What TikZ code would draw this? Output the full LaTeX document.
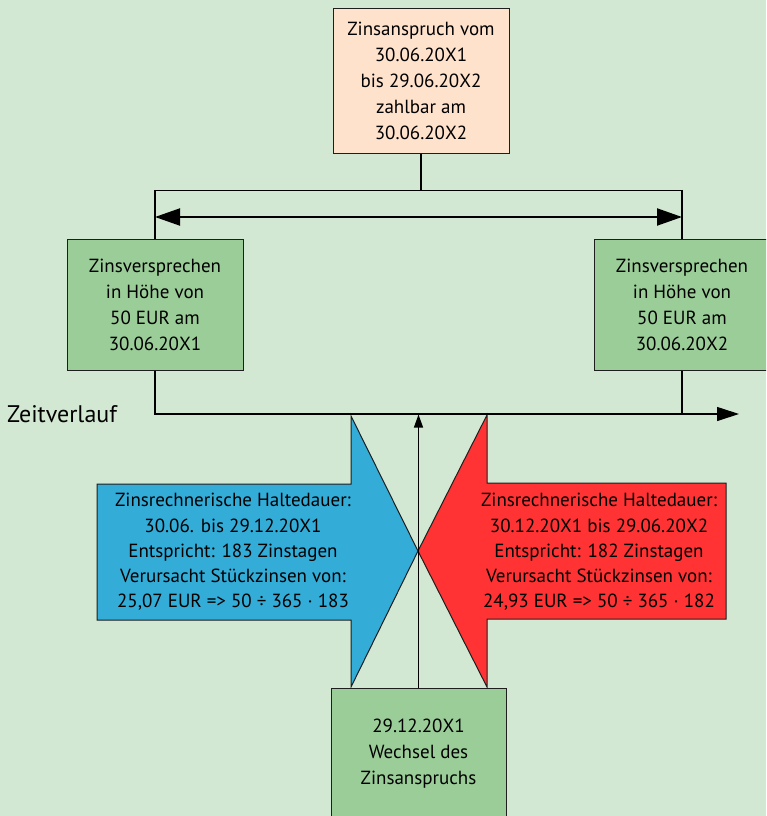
\documentclass[tikz,border=0pt]{standalone}
\usepackage{fontspec}
\setmainfont{PT Sans}
\usetikzlibrary{arrows.meta}
\definecolor{bg}{RGB}{210,232,210}
\definecolor{boxgreen}{RGB}{155,205,152}
\definecolor{peach}{RGB}{255,226,204}
\definecolor{arrblue}{RGB}{51,172,216}
\definecolor{arrred}{RGB}{255,51,51}
\definecolor{edge}{RGB}{30,30,30}
\begin{document}
\begin{tikzpicture}[x=1pt,y=-1pt,
  txt/.style={font=\fontsize{19}{25.2}\selectfont, align=center, text=black, inner sep=0pt},
  box/.style={txt, font=\fontsize{19}{26}\selectfont, draw=edge, line width=1pt, minimum width=176pt},
  conn/.style={draw=black, line width=1.1pt},
  arrowshape/.style={draw=edge, line width=1pt}]
\useasboundingbox (0,0) rectangle (766,816);
\fill[bg] (0,0) rectangle (766,816);
\clip (0,0) rectangle (766,816);
% arrows (shapes)
\path[arrowshape, fill=arrblue] (97,484) -- (351,484) -- (351,416) -- (418,551) -- (351,687) -- (351,620) -- (97,620) -- cycle;
\path[arrowshape, fill=arrred] (726,483) -- (487,483) -- (487,415) -- (418,551) -- (487,687) -- (487,619) -- (726,619) -- cycle;
% boxes
\node[box, fill=peach, minimum height=144pt] (top) at (421,81) {Zinsanspruch vom\\30.06.20X1\\bis 29.06.20X2\\zahlbar am\\30.06.20X2};
\node[box, fill=boxgreen, minimum height=131pt] (left) at (155,304.5) {Zinsversprechen\\in Höhe von\\50 EUR am\\30.06.20X1};
\node[box, fill=boxgreen, minimum height=131pt] (right) at (682,304.5) {Zinsversprechen\\in Höhe von\\50 EUR am\\30.06.20X2};
\node[box, fill=boxgreen, minimum width=175pt, minimum height=132pt] (bottom) at (418.5,754) {29.12.20X1\\Wechsel des\\Zinsanspruchs};
% arrow texts
\node[txt] (bluetext) at (233,552) {Zinsrechnerische Haltedauer:\\30.06. bis 29.12.20X1\\Entspricht: 183 Zinstagen\\Verursacht Stückzinsen von:\\25,07 EUR => 50 ÷ 365 · 183};
\node[txt] (redtext) at (599,552) {Zinsrechnerische Haltedauer:\\30.12.20X1 bis 29.06.20X2\\Entspricht: 182 Zinstagen\\Verursacht Stückzinsen von:\\24,93 EUR => 50 ÷ 365 · 182};
\node[font=\fontsize{24}{28}\selectfont, anchor=west, inner sep=0pt] (zeit) at (7,414) {Zeitverlauf};
% connectors
\coordinate (bl) at (155,190.5);
\coordinate (br) at (682,190.5);
\coordinate (tl) at (155,414);
\coordinate (tr) at (682,414);
\coordinate (tend) at (739,414);
\coordinate (al) at (155,217);
\coordinate (ar) at (682,217);
\coordinate (vtop) at (418.5,414.5);
\draw[conn] (left.north) -- (bl) -- (br) -- (right.north);
\draw[conn] (top.south) -- (top.south |- bl);
\draw[draw=black, line width=2pt, {Triangle[length=25pt,width=17pt]}-{Triangle[length=25pt,width=17pt]}] (al) -- (ar);
\draw[conn, -{Triangle[length=22pt,width=14pt]}] (left.south) -- (tl) -- (tend);
\draw[conn] (right.south) -- (tr);
\draw[conn, -{Triangle[length=13pt,width=9pt]}] (bottom.north) -- (vtop);
\end{tikzpicture}
\end{document}
